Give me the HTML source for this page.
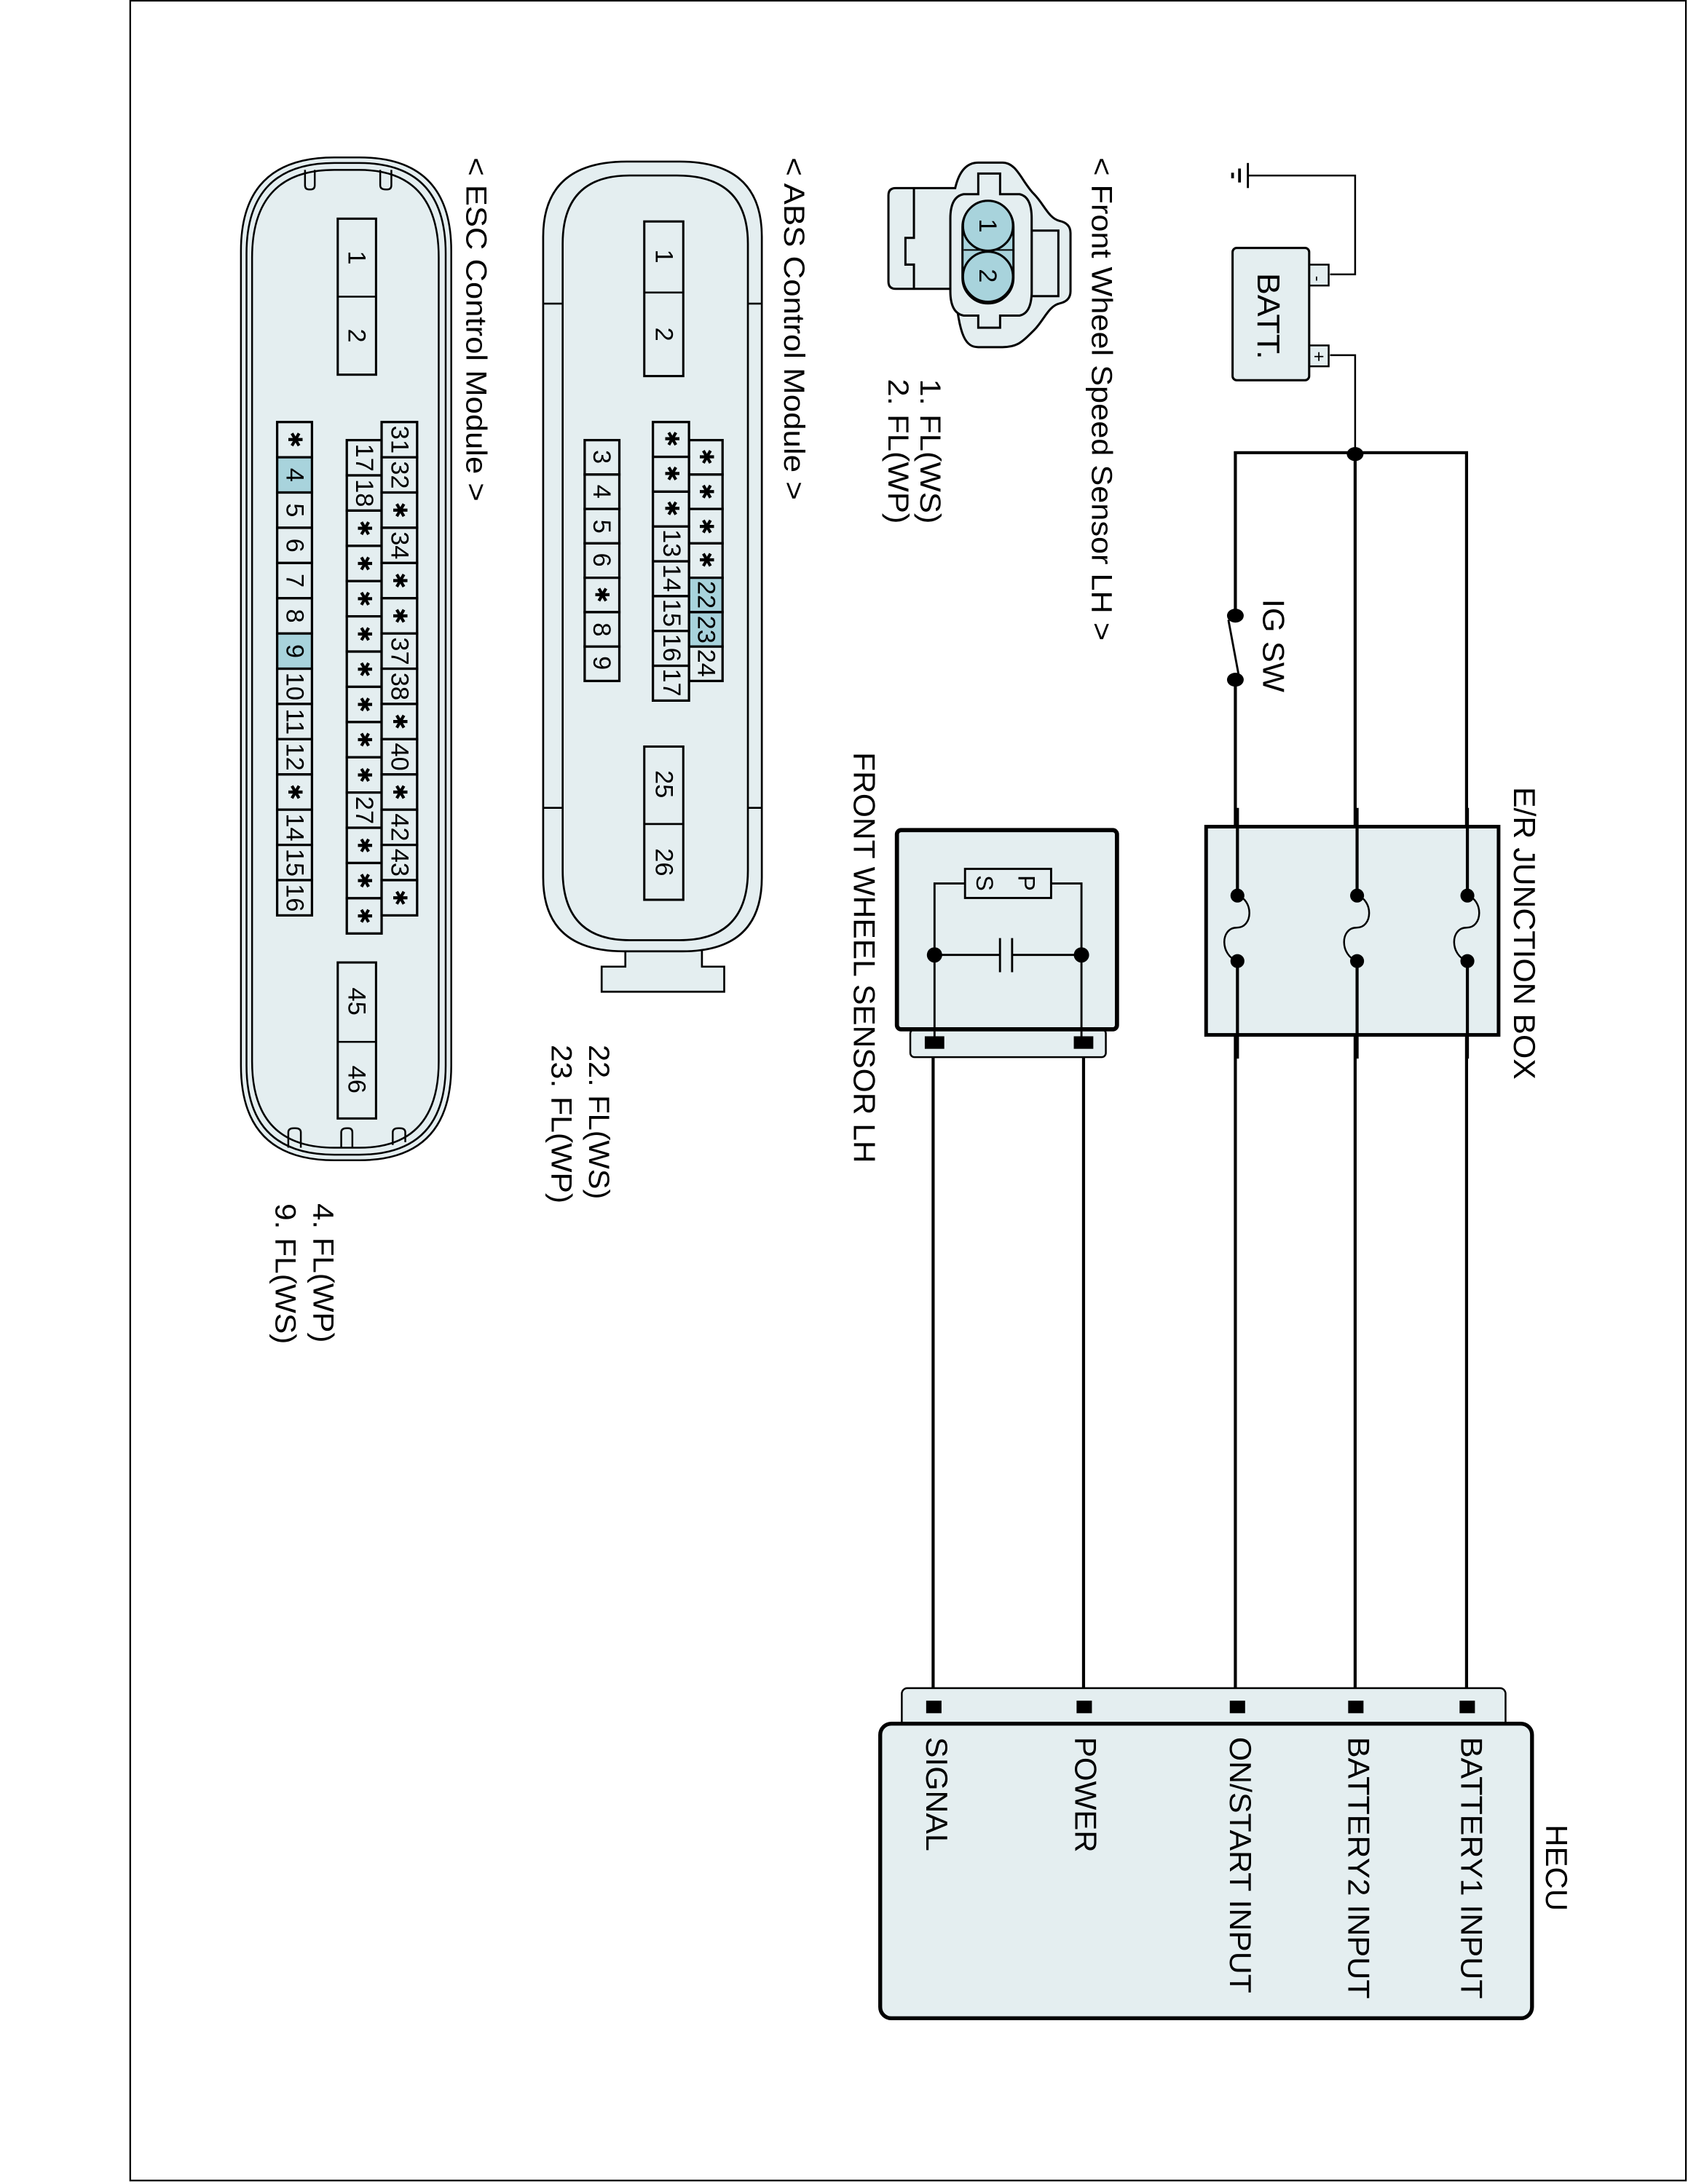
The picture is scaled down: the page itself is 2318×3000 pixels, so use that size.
<!DOCTYPE html>
<html><head><meta charset="utf-8"><style>
html,body{margin:0;padding:0;background:#fff}
svg{display:block}
text{font-family:"Liberation Sans",Arial,sans-serif;fill:#000}
.a{font-family:"DejaVu Sans",sans-serif;font-size:14px}
</style></head><body>
<svg width="2318" height="3000" viewBox="0 0 1212 1568" preserveAspectRatio="none" xmlns="http://www.w3.org/2000/svg">
<rect x="0" y="0" width="1212" height="1568" fill="#fff"/>
<rect x="93.5" y="0.5" width="1117" height="1565" fill="none" stroke="#000" stroke-width="1.2"/>

<g stroke="#000" fill="none" stroke-width="1.3">
<line x1="885" y1="124" x2="885" y2="128" stroke-width="2"/>
<line x1="890" y1="121" x2="890" y2="131" stroke-width="2"/>
<line x1="896" y1="117" x2="896" y2="135" stroke-width="1.5"/>
<polyline points="896,126 973,126 973,197 955,197"/>
<polyline points="955,255 973,255 973,325"/>
<rect x="940" y="190" width="14" height="15" fill="#e4eef0"/>
<rect x="940" y="248" width="14" height="15" fill="#e4eef0"/>
<rect x="885" y="178" width="55" height="95" rx="3" fill="#e4eef0" stroke-width="1.6"/>
</g>
<text transform="translate(903,196) rotate(90)" font-size="23" textLength="62" lengthAdjust="spacingAndGlyphs">BATT.</text>
<text transform="translate(946,200) rotate(90)" font-size="12" text-anchor="middle" dominant-baseline="central">-</text>
<text transform="translate(947,256) rotate(90)" font-size="13" text-anchor="middle" dominant-baseline="central">+</text>

<g stroke="#000" fill="none" stroke-width="2.2">
<polyline points="887,1224 887,488"/>
<polyline points="887,442 887,325 1053,325 1053,1224"/>
<polyline points="973,325 973,1224"/>
<line x1="890" y1="488" x2="882" y2="445" stroke-width="1.5"/>
<polyline points="670,745 670,1224"/>
<polyline points="778,745 778,1224"/>
</g>
<g fill="#000">
<ellipse cx="973" cy="326" rx="6" ry="5"/>
<ellipse cx="887" cy="442" rx="6" ry="5"/>
<ellipse cx="887" cy="488" rx="6" ry="5"/>
</g>
<text transform="translate(907,430) rotate(90)" font-size="22" textLength="67" lengthAdjust="spacingAndGlyphs">IG SW</text>

<rect x="866" y="593.5" width="210" height="149.5" fill="#e4eef0" stroke="#000" stroke-width="2.6"/>
<g stroke="#000" stroke-width="2.2" fill="none">
<line x1="888.5" y1="580" x2="888.5" y2="643"/><line x1="888.5" y1="690" x2="888.5" y2="760"/>
<line x1="974.4" y1="580" x2="974.4" y2="643"/><line x1="974.4" y1="690" x2="974.4" y2="760"/>
<line x1="1053.6" y1="580" x2="1053.6" y2="643"/><line x1="1053.6" y1="690" x2="1053.6" y2="760"/>
</g>
<g stroke="#000" stroke-width="1.3" fill="none">
<path d="M888.5,643 C900,646 900,666 888,666 C876,666 876,686 888.5,690"/>
<path d="M974.4,643 C986,646 986,666 974,666 C962,666 962,686 974.4,690"/>
<path d="M1053.6,643 C1065,646 1065,666 1053,666 C1041,666 1041,686 1053.6,690"/>
</g>
<g fill="#000">
<circle cx="888.5" cy="643" r="5"/><circle cx="888.5" cy="690" r="5"/>
<circle cx="974.4" cy="643" r="5"/><circle cx="974.4" cy="690" r="5"/>
<circle cx="1053.6" cy="643" r="5"/><circle cx="1053.6" cy="690" r="5"/>
</g>
<text transform="translate(1087,565) rotate(90)" font-size="22" textLength="210" lengthAdjust="spacingAndGlyphs">E/R JUNCTION BOX</text>

<rect x="653.6" y="739" width="140.4" height="20" rx="3" fill="#e4eef0" stroke="#000" stroke-width="1.3"/>
<rect x="644" y="596" width="158" height="143" rx="3" fill="#e4eef0" stroke="#000" stroke-width="3"/>
<g stroke="#000" stroke-width="1.5" fill="none">
<polyline points="671,745 671,634.3 693,634.3"/>
<polyline points="776.5,745 776.5,634.3 754.7,634.3"/>
<rect x="692.9" y="623.8" width="61.8" height="20.9" fill="#e4eef0"/>
<line x1="671" y1="685.6" x2="718" y2="685.6"/>
<line x1="726.7" y1="685.6" x2="776.5" y2="685.6"/>
<line x1="718" y1="673.5" x2="718" y2="698"/>
<line x1="726.7" y1="673.5" x2="726.7" y2="698"/>
</g>
<circle cx="671" cy="685.6" r="5.5"/><circle cx="776.5" cy="685.6" r="5.5"/>
<rect x="664" y="744" width="14" height="9"/>
<rect x="771" y="744" width="14" height="9"/>
<text transform="translate(737,634) rotate(90)" font-size="17" text-anchor="middle" dominant-baseline="central">P</text>
<text transform="translate(707,634) rotate(90)" font-size="17" text-anchor="middle" dominant-baseline="central">S</text>
<text transform="translate(613,540) rotate(90)" font-size="22" textLength="295" lengthAdjust="spacingAndGlyphs">FRONT WHEEL SENSOR LH</text>

<rect x="647.5" y="1212" width="433.5" height="30" rx="4" fill="#e4eef0" stroke="#000" stroke-width="1.3"/>
<rect x="632" y="1237.5" width="468" height="211.5" rx="8" fill="#e4eef0" stroke="#000" stroke-width="2.8"/>
<g fill="#000">
<rect x="665" y="1221" width="11" height="9"/>
<rect x="773" y="1221" width="11" height="9"/>
<rect x="883" y="1221" width="11" height="9"/>
<rect x="968" y="1221" width="11" height="9"/>
<rect x="1048" y="1221" width="11" height="9"/>
</g>
<g font-size="22">
<text transform="translate(1049,1247) rotate(90)" textLength="188" lengthAdjust="spacingAndGlyphs">BATTERY1 INPUT</text>
<text transform="translate(968,1247) rotate(90)" textLength="188" lengthAdjust="spacingAndGlyphs">BATTERY2 INPUT</text>
<text transform="translate(883,1247) rotate(90)" textLength="184" lengthAdjust="spacingAndGlyphs">ON/START INPUT</text>
<text transform="translate(772,1247) rotate(90)" textLength="83" lengthAdjust="spacingAndGlyphs">POWER</text>
<text transform="translate(665,1247) rotate(90)" textLength="82" lengthAdjust="spacingAndGlyphs">SIGNAL</text>
<text transform="translate(1110,1310) rotate(90)" textLength="62" lengthAdjust="spacingAndGlyphs">HECU</text>
</g>

<g transform="translate(627.45,104.55) scale(0.1743)" stroke="#000" stroke-width="9" fill="#e4eef0">
<path d="M60,205 Q60,175 90,175 L335,175 C350,110 380,70 430,70 L530,70 C590,70 610,150 660,200 C700,240 720,300 765,310 Q810,320 810,360 L810,600 Q810,640 765,650 C720,660 700,720 660,760 C610,810 590,830 530,830 L430,830 C380,830 350,790 335,590 L90,590 Q60,590 60,560 Z"/>
<polyline points="165,175 165,380 130,380 130,490 165,490 165,590" fill="none"/>
<rect x="650" y="350" width="110" height="270"/>
<path d="M430,200 L430,115 L520,115 L520,200 L600,200 Q650,210 650,300 L650,600 Q650,690 600,700 L520,700 L520,750 L430,750 L430,700 L370,700 Q315,690 315,600 L315,300 Q315,210 370,200 Z"/>
<rect x="365" y="230" width="210" height="420" rx="105" fill="#a8d3dc"/>
<line x1="370" y1="365" x2="575" y2="365" stroke-width="6"/>
<line x1="370" y1="430" x2="575" y2="430" stroke-width="6"/>
<circle cx="470" cy="330" r="103" fill="#a8d3dc"/>
<circle cx="470" cy="540" r="103" fill="#a8d3dc"/>
</g>
<text transform="translate(709,162) rotate(90)" font-size="18" text-anchor="middle" dominant-baseline="central">1</text>
<text transform="translate(709,198) rotate(90)" font-size="18" text-anchor="middle" dominant-baseline="central">2</text>
<text transform="translate(784,113) rotate(90)" font-size="21" textLength="347" lengthAdjust="spacingAndGlyphs">&lt; Front Wheel Speed Sensor LH &gt;</text>
<text transform="translate(661,272) rotate(90)" font-size="21" textLength="104" lengthAdjust="spacingAndGlyphs">1. FL(WS)</text>
<text transform="translate(638,272) rotate(90)" font-size="21" textLength="104" lengthAdjust="spacingAndGlyphs">2. FL(WP)</text>

<g stroke="#000" stroke-width="1.4" fill="#e4eef0">
<path d="M449,682 L449,694 L432,694 L432,712 L520,712 L520,694 L504,694 L504,682 Z"/>
<path d="M390,170 Q390,116 450,116 L488,116 Q547,116 547,170 L547,630 Q547,683 490,683 L448,683 Q390,683 390,630 Z"/>
<path d="M404,175 Q404,126 452,126 L486,126 Q537,126 537,175 L537,625 Q537,675 488,675 L452,675 Q404,675 404,625 Z" fill="none"/>
<line x1="390" y1="218" x2="404" y2="218"/><line x1="537" y1="218" x2="547" y2="218"/>
<line x1="390" y1="580" x2="404" y2="580"/><line x1="537" y1="580" x2="547" y2="580"/>
<rect x="462.6" y="159" width="28" height="111" stroke-width="1.6"/>
<line x1="462.6" y1="210" x2="490.6" y2="210"/>
<rect x="462.6" y="536" width="28" height="110" stroke-width="1.6"/>
<line x1="462.6" y1="591.6" x2="490.6" y2="591.6"/>
</g>
<g font-size="18" text-anchor="middle" dominant-baseline="central">
<text transform="translate(476.6,184) rotate(90)">1</text>
<text transform="translate(476.6,240) rotate(90)">2</text>
<text transform="translate(476.6,563) rotate(90)">25</text>
<text transform="translate(476.6,619) rotate(90)">26</text>
</g>
<text transform="translate(563,113) rotate(90)" font-size="21" textLength="246" lengthAdjust="spacingAndGlyphs">&lt; ABS Control Module &gt;</text>
<text transform="translate(423,750) rotate(90)" font-size="21" textLength="111" lengthAdjust="spacingAndGlyphs">22. FL(WS)</text>
<text transform="translate(396,750) rotate(90)" font-size="21" textLength="114" lengthAdjust="spacingAndGlyphs">23. FL(WP)</text>

<g stroke="#000" stroke-width="1.3" fill="#e4eef0">
<path d="M173,180 Q173,113 240,113 L258,113 Q324,113 324,180 L324,765 Q324,833 258,833 L240,833 Q173,833 173,765 Z"/>
<path d="M177,182 Q177,117 240,117 L258,117 Q320,117 320,182 L320,765 Q320,829 258,829 L240,829 Q177,829 177,765 Z" fill="none"/>
<path d="M181,185 Q181,122 240,122 L258,122 Q315,122 315,185 L315,762 Q315,824 258,824 L240,824 Q181,824 181,762 Z" fill="none"/>
<path d="M219,122 L219,133 Q219,136 222,136 L223,136 Q226,136 226,133 L226,122" fill="none"/>
<path d="M273,122 L273,133 Q273,136 277,136 L278,136 Q281,136 281,133 L281,122" fill="none"/>
<path d="M207,824 L207,813 Q207,810 211,810 L212,810 Q216,810 216,813 L216,824" fill="none"/>
<path d="M245,824 L245,813 Q245,810 249,810 L250,810 Q253,810 253,813 L253,824" fill="none"/>
<path d="M282,822 L282,813 Q282,810 286,810 L287,810 Q291,810 291,813 L291,820" fill="none"/>
<rect x="242.5" y="157" width="27.5" height="112" stroke-width="1.6"/>
<line x1="242.5" y1="213" x2="270" y2="213"/>
<rect x="242.5" y="691" width="27.5" height="112" stroke-width="1.6"/>
<line x1="242.5" y1="748" x2="270" y2="748"/>
</g>
<g font-size="18" text-anchor="middle" dominant-baseline="central">
<text transform="translate(256,185) rotate(90)">1</text>
<text transform="translate(256,241) rotate(90)">2</text>
<text transform="translate(256,719) rotate(90)">45</text>
<text transform="translate(256,775) rotate(90)">46</text>
</g>
<text transform="translate(335,113) rotate(90)" font-size="21" textLength="247" lengthAdjust="spacingAndGlyphs">&lt; ESC Control Module &gt;</text>
<text transform="translate(225,864) rotate(90)" font-size="21" textLength="100" lengthAdjust="spacingAndGlyphs">4. FL(WP)</text>
<text transform="translate(198,864) rotate(90)" font-size="21" textLength="101" lengthAdjust="spacingAndGlyphs">9. FL(WS)</text>

<g stroke="#000" stroke-width="1.7">
<rect x="494.7" y="316" width="24.1" height="24.7" fill="#e4eef0"/><rect x="494.7" y="340.7" width="24.1" height="24.7" fill="#e4eef0"/><rect x="494.7" y="365.4" width="24.1" height="24.7" fill="#e4eef0"/><rect x="494.7" y="390.1" width="24.1" height="24.7" fill="#e4eef0"/><rect x="494.7" y="414.8" width="24.1" height="24.7" fill="#a8d3dc"/><rect x="494.7" y="439.5" width="24.1" height="24.7" fill="#a8d3dc"/><rect x="494.7" y="464.2" width="24.1" height="24.7" fill="#e4eef0"/>
<rect x="468.8" y="303" width="25.9" height="25" fill="#e4eef0"/><rect x="468.8" y="328" width="25.9" height="25" fill="#e4eef0"/><rect x="468.8" y="353" width="25.9" height="25" fill="#e4eef0"/><rect x="468.8" y="378" width="25.9" height="25" fill="#e4eef0"/><rect x="468.8" y="403" width="25.9" height="25" fill="#e4eef0"/><rect x="468.8" y="428" width="25.9" height="25" fill="#e4eef0"/><rect x="468.8" y="453" width="25.9" height="25" fill="#e4eef0"/><rect x="468.8" y="478" width="25.9" height="25" fill="#e4eef0"/>
<rect x="419.8" y="316" width="24.9" height="24.7" fill="#e4eef0"/><rect x="419.8" y="340.7" width="24.9" height="24.7" fill="#e4eef0"/><rect x="419.8" y="365.4" width="24.9" height="24.7" fill="#e4eef0"/><rect x="419.8" y="390.1" width="24.9" height="24.7" fill="#e4eef0"/><rect x="419.8" y="414.8" width="24.9" height="24.7" fill="#e4eef0"/><rect x="419.8" y="439.5" width="24.9" height="24.7" fill="#e4eef0"/><rect x="419.8" y="464.2" width="24.9" height="24.7" fill="#e4eef0"/>
</g>
<g font-size="18" text-anchor="middle" dominant-baseline="central">
<text class="a" transform="translate(507,328) rotate(90)">✱</text><text class="a" transform="translate(507,353) rotate(90)">✱</text><text class="a" transform="translate(507,378) rotate(90)">✱</text><text class="a" transform="translate(507,402) rotate(90)">✱</text><text transform="translate(507,427) rotate(90)">22</text><text transform="translate(507,452) rotate(90)">23</text><text transform="translate(507,476) rotate(90)">24</text>
<text class="a" transform="translate(482,315) rotate(90)">✱</text><text class="a" transform="translate(482,340) rotate(90)">✱</text><text class="a" transform="translate(482,365) rotate(90)">✱</text><text transform="translate(482,390) rotate(90)">13</text><text transform="translate(482,415) rotate(90)">14</text><text transform="translate(482,440) rotate(90)">15</text><text transform="translate(482,465) rotate(90)">16</text><text transform="translate(482,490) rotate(90)">17</text>
<text transform="translate(432,328) rotate(90)">3</text><text transform="translate(432,353) rotate(90)">4</text><text transform="translate(432,378) rotate(90)">5</text><text transform="translate(432,402) rotate(90)">6</text><text class="a" transform="translate(432,427) rotate(90)">✱</text><text transform="translate(432,452) rotate(90)">8</text><text transform="translate(432,476) rotate(90)">9</text>
</g>

<g stroke="#000" stroke-width="1.7" fill="#e4eef0">
<rect x="199" y="303" width="25" height="25.3"/><rect x="199" y="328.3" width="25" height="25.3" fill="#a8d3dc"/><rect x="199" y="353.6" width="25" height="25.3"/><rect x="199" y="378.9" width="25" height="25.3"/><rect x="199" y="404.2" width="25" height="25.3"/><rect x="199" y="429.5" width="25" height="25.3"/><rect x="199" y="454.8" width="25" height="25.3" fill="#a8d3dc"/><rect x="199" y="480.1" width="25" height="25.3"/><rect x="199" y="505.4" width="25" height="25.3"/><rect x="199" y="530.7" width="25" height="25.3"/><rect x="199" y="556" width="25" height="25.3"/><rect x="199" y="581.3" width="25" height="25.3"/><rect x="199" y="606.6" width="25" height="25.3"/><rect x="199" y="631.9" width="25" height="25.3"/>
<rect x="249" y="316" width="25" height="25.3"/><rect x="249" y="341.3" width="25" height="25.3"/><rect x="249" y="366.6" width="25" height="25.3"/><rect x="249" y="391.9" width="25" height="25.3"/><rect x="249" y="417.2" width="25" height="25.3"/><rect x="249" y="442.5" width="25" height="25.3"/><rect x="249" y="467.8" width="25" height="25.3"/><rect x="249" y="493.1" width="25" height="25.3"/><rect x="249" y="518.4" width="25" height="25.3"/><rect x="249" y="543.7" width="25" height="25.3"/><rect x="249" y="569" width="25" height="25.3"/><rect x="249" y="594.3" width="25" height="25.3"/><rect x="249" y="619.6" width="25" height="25.3"/><rect x="249" y="644.9" width="25" height="25.3"/>
<rect x="274" y="303" width="25.5" height="25.3"/><rect x="274" y="328.3" width="25.5" height="25.3"/><rect x="274" y="353.6" width="25.5" height="25.3"/><rect x="274" y="378.9" width="25.5" height="25.3"/><rect x="274" y="404.2" width="25.5" height="25.3"/><rect x="274" y="429.5" width="25.5" height="25.3"/><rect x="274" y="454.8" width="25.5" height="25.3"/><rect x="274" y="480.1" width="25.5" height="25.3"/><rect x="274" y="505.4" width="25.5" height="25.3"/><rect x="274" y="530.7" width="25.5" height="25.3"/><rect x="274" y="556" width="25.5" height="25.3"/><rect x="274" y="581.3" width="25.5" height="25.3"/><rect x="274" y="606.6" width="25.5" height="25.3"/><rect x="274" y="631.9" width="25.5" height="25.3"/>
</g>
<g font-size="18" text-anchor="middle" dominant-baseline="central">
<text class="a" transform="translate(211.5,315.6) rotate(90)">✱</text><text transform="translate(211.5,341) rotate(90)">4</text><text transform="translate(211.5,366.3) rotate(90)">5</text><text transform="translate(211.5,391.6) rotate(90)">6</text><text transform="translate(211.5,416.9) rotate(90)">7</text><text transform="translate(211.5,442.2) rotate(90)">8</text><text transform="translate(211.5,467.5) rotate(90)">9</text><text transform="translate(211.5,492.8) rotate(90)">10</text><text transform="translate(211.5,518.1) rotate(90)">11</text><text transform="translate(211.5,543.4) rotate(90)">12</text><text class="a" transform="translate(211.5,568.7) rotate(90)">✱</text><text transform="translate(211.5,594) rotate(90)">14</text><text transform="translate(211.5,619.3) rotate(90)">15</text><text transform="translate(211.5,644.6) rotate(90)">16</text>
<text transform="translate(261.5,328.6) rotate(90)">17</text><text transform="translate(261.5,354) rotate(90)">18</text><text class="a" transform="translate(261.5,379.3) rotate(90)">✱</text><text class="a" transform="translate(261.5,404.6) rotate(90)">✱</text><text class="a" transform="translate(261.5,429.9) rotate(90)">✱</text><text class="a" transform="translate(261.5,455.2) rotate(90)">✱</text><text class="a" transform="translate(261.5,480.5) rotate(90)">✱</text><text class="a" transform="translate(261.5,505.8) rotate(90)">✱</text><text class="a" transform="translate(261.5,531.1) rotate(90)">✱</text><text class="a" transform="translate(261.5,556.4) rotate(90)">✱</text><text transform="translate(261.5,581.7) rotate(90)">27</text><text class="a" transform="translate(261.5,607) rotate(90)">✱</text><text class="a" transform="translate(261.5,632.3) rotate(90)">✱</text><text class="a" transform="translate(261.5,657.6) rotate(90)">✱</text>
<text transform="translate(286.7,315.6) rotate(90)">31</text><text transform="translate(286.7,341) rotate(90)">32</text><text class="a" transform="translate(286.7,366.3) rotate(90)">✱</text><text transform="translate(286.7,391.6) rotate(90)">34</text><text class="a" transform="translate(286.7,416.9) rotate(90)">✱</text><text class="a" transform="translate(286.7,442.2) rotate(90)">✱</text><text transform="translate(286.7,467.5) rotate(90)">37</text><text transform="translate(286.7,492.8) rotate(90)">38</text><text class="a" transform="translate(286.7,518.1) rotate(90)">✱</text><text transform="translate(286.7,543.4) rotate(90)">40</text><text class="a" transform="translate(286.7,568.7) rotate(90)">✱</text><text transform="translate(286.7,594) rotate(90)">42</text><text transform="translate(286.7,619.3) rotate(90)">43</text><text class="a" transform="translate(286.7,644.6) rotate(90)">✱</text>
</g>
</svg>
</body></html>
